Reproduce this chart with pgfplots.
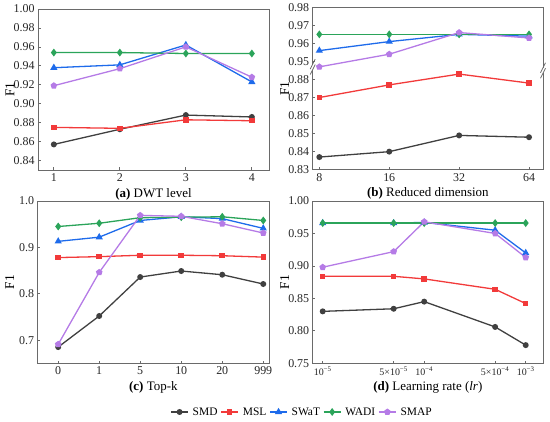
\documentclass[border=0pt]{standalone}
\usepackage{pgfplots}
\pgfplotsset{compat=1.18}
\usepackage{fontspec}
\setmainfont{Liberation Serif}
\usetikzlibrary{plotmarks}
\definecolor{cSMD}{HTML}{404040}
\definecolor{cMSL}{HTML}{F23A3A}
\definecolor{cSWaT}{HTML}{1E6BEB}
\definecolor{cWADI}{HTML}{2BA45A}
\definecolor{cSMAP}{HTML}{B57BE6}
\definecolor{axgray}{HTML}{6A6A6A}
\pgfplotsset{
  panel/.style={
    scale only axis, anchor=south west,
    axis line style={axgray, line width=0.8bp},
    every tick/.style={axgray, line width=0.7bp},
    tick align=inside, tick pos=left, major tick length=2.5bp,
    /pgf/number format/assume math mode=true,
    tick label style={font=\fontsize{12}{14}\selectfont, text=black!85},
    ylabel={F1},
    ylabel style={at={(axis description cs:0,0.5)}, anchor=center, yshift=28bp, font=\fontsize{13.5}{15}\selectfont},
    xlabel style={at={(axis description cs:0.5,0)}, anchor=center, yshift=-24bp, font=\fontsize{13}{15}\selectfont},
    clip=false,
  },
  sSMD/.style={color=cSMD, line width=1.3bp, mark=*, mark size=2.3bp, mark options={solid}},
  sMSL/.style={color=cMSL, line width=1.3bp, mark=square*, mark size=2.1bp, mark options={solid}},
  sSWaT/.style={color=cSWaT, line width=1.3bp, mark=triangle*, mark size=2.9bp, mark options={solid}},
  sWADI/.style={color=cWADI, line width=1.3bp, mark=diamond*, mark size=2.9bp, mark options={solid}},
  sSMAP/.style={color=cSMAP, line width=1.3bp, mark=pentagon*, mark size=2.7bp, mark options={solid}},
}
\begin{document}
\begin{tikzpicture}
\path[use as bounding box] (0,0) rectangle (550bp,422bp);

% (a)
\begin{axis}[panel, at={(38bp,252bp)}, width=231bp, height=161bp,
  xmin=0.76, xmax=4.26, ymin=0.83, ymax=1.00,
  xtick={1,2,3,4}, ytick={0.84,0.86,...,1.001},
  yticklabel style={/pgf/number format/.cd, fixed, fixed zerofill, precision=2},
  xlabel={\textbf{(a)} DWT level}]
\addplot[sSMD] coordinates {(1,0.857) (2,0.873) (3,0.888) (4,0.886)};
\addplot[sMSL] coordinates {(1,0.875) (2,0.874) (3,0.883) (4,0.882)};
\addplot[sSWaT] coordinates {(1,0.938) (2,0.941) (3,0.962) (4,0.923)};
\addplot[sWADI] coordinates {(1,0.954) (2,0.954) (3,0.953) (4,0.953)};
\addplot[sSMAP] coordinates {(1,0.919) (2,0.937) (3,0.960) (4,0.928)};
\end{axis}

% (b) broken axis: values above 0.94 are shifted down by 0.06
\begin{axis}[panel, at={(312.7bp,252.3bp)}, width=230.3bp, height=162.4bp,
  xmin=-0.095, xmax=3.2, ymin=0.83, ymax=0.92,
  xtick={0,1,2,3}, xticklabels={8,16,32,64},
  ytick={0.83,0.84,0.85,0.86,0.87,0.88,0.89,0.90,0.91,0.92},
  yticklabels={0.83,0.84,0.85,0.86,0.87,0.88,0.95,0.96,0.97,0.98},
  y filter/.expression={y>0.94 ? y-0.06 : y},
  xlabel={\textbf{(b)} Reduced dimension}]
\addplot[sSMD] coordinates {(0,0.837) (1,0.840) (2,0.849) (3,0.848)};
\addplot[sMSL] coordinates {(0,0.870) (1,0.877) (2,0.883) (3,0.878)};
\addplot[sSWaT] coordinates {(0,0.956) (1,0.961) (2,0.965) (3,0.964)};
\addplot[sWADI] coordinates {(0,0.965) (1,0.965) (2,0.965) (3,0.965)};
\addplot[sSMAP] coordinates {(0,0.947) (1,0.954) (2,0.966) (3,0.963)};
\draw[white, line width=2bp] (axis cs:-0.095,0.8855) -- (axis cs:-0.095,0.8885);
\draw[axgray, line width=0.8bp] ([xshift=-2.5bp,yshift=-5bp]axis cs:-0.095,0.8855) -- ([xshift=2.5bp,yshift=5bp]axis cs:-0.095,0.8855);
\draw[axgray, line width=0.8bp] ([xshift=-2.5bp,yshift=-5bp]axis cs:-0.095,0.8885) -- ([xshift=2.5bp,yshift=5bp]axis cs:-0.095,0.8885);
\draw[white, line width=2bp] (axis cs:3.2,0.8835) -- (axis cs:3.2,0.8865);
\draw[axgray, line width=0.8bp] ([xshift=-2.5bp,yshift=-5bp]axis cs:3.2,0.8835) -- ([xshift=2.5bp,yshift=5bp]axis cs:3.2,0.8835);
\draw[axgray, line width=0.8bp] ([xshift=-2.5bp,yshift=-5bp]axis cs:3.2,0.8865) -- ([xshift=2.5bp,yshift=5bp]axis cs:3.2,0.8865);
\end{axis}

% (c)
\begin{axis}[panel, at={(37.7bp,58.7bp)}, width=231.3bp, height=162.3bp,
  xmin=-0.5, xmax=5.14, ymin=0.65, ymax=1.0,
  xtick={0,1,2,3,4,5}, xticklabels={0,1,5,10,20,999},
  ytick={0.7,0.8,0.9,1.0},
  yticklabel style={/pgf/number format/.cd, fixed, fixed zerofill, precision=1},
  xlabel={\textbf{(c)} Top-k},
  legend columns=5,
  legend style={at={(1.143,-0.300)}, anchor=center, draw=none, fill=none,
    font=\fontsize{11.5}{13}\selectfont,
    /tikz/every even column/.append style={column sep=1bp},
    /tikz/every odd column/.append style={column sep=2bp}},
  legend image code/.code={\draw[mark repeat=2,mark phase=2] plot coordinates {(0bp,0bp) (8.5bp,0bp) (17bp,0bp)};}]
\addplot[sSMD] coordinates {(0,0.685) (1,0.752) (2,0.836) (3,0.849) (4,0.841) (5,0.821)};
\addlegendentry{SMD}
\addplot[sMSL] coordinates {(0,0.878) (1,0.880) (2,0.883) (3,0.883) (4,0.882) (5,0.879)};
\addlegendentry{MSL}
\addplot[sSWaT] coordinates {(0,0.913) (1,0.922) (2,0.958) (3,0.966) (4,0.962) (5,0.941)};
\addlegendentry{SWaT}
\addplot[sWADI] coordinates {(0,0.945) (1,0.952) (2,0.964) (3,0.965) (4,0.966) (5,0.958)};
\addlegendentry{WADI}
\addplot[sSMAP] coordinates {(0,0.691) (1,0.846) (2,0.969) (3,0.967) (4,0.951) (5,0.931)};
\addlegendentry{SMAP}
\end{axis}

% (d)
\begin{axis}[panel, at={(312.7bp,58.7bp)}, width=230.3bp, height=162.3bp,
  xmode=log, xmin=7.97e-6, xmax=1.48e-3, ymin=0.75, ymax=1.00,
  xtick={1e-5,5e-5,1e-4,5e-4,1e-3}, xminorticks=false,
  xticklabels={10\textsuperscript{−5},5×10\textsuperscript{−5},10\textsuperscript{−4},5×10\textsuperscript{−4},10\textsuperscript{−3}},
  xticklabel style={font=\fontsize{10}{12}\selectfont},
  ytick={0.75,0.80,...,1.001},
  yticklabel style={/pgf/number format/.cd, fixed, fixed zerofill, precision=2},
  xlabel={\textbf{(d)} Learning rate (\textit{lr})}]
\addplot[sSMD] coordinates {(1e-5,0.830) (5e-5,0.834) (1e-4,0.845) (5e-4,0.806) (1e-3,0.778)};
\addplot[sMSL] coordinates {(1e-5,0.884) (5e-5,0.884) (1e-4,0.880) (5e-4,0.864) (1e-3,0.842)};
\addplot[sSWaT] coordinates {(1e-5,0.966) (5e-5,0.966) (1e-4,0.967) (5e-4,0.955) (1e-3,0.920)};
\addplot[sWADI] coordinates {(1e-5,0.966) (5e-5,0.966) (1e-4,0.966) (5e-4,0.966) (1e-3,0.966)};
\addplot[sSMAP] coordinates {(1e-5,0.898) (5e-5,0.922) (1e-4,0.968) (5e-4,0.950) (1e-3,0.913)};
\end{axis}
\end{tikzpicture}
\end{document}
